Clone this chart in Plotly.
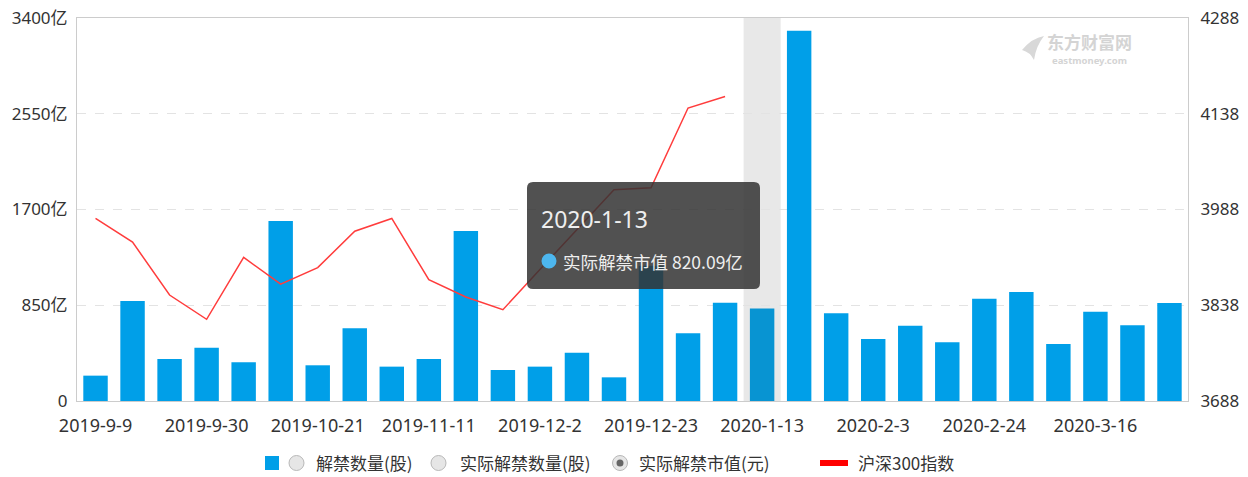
import plotly.graph_objects as go

# ---------------- data ----------------
dates = ["2019-9-9", "2019-9-16", "2019-9-23", "2019-9-30", "2019-10-7", "2019-10-14",
         "2019-10-21", "2019-10-28", "2019-11-4", "2019-11-11", "2019-11-18", "2019-11-25",
         "2019-12-2", "2019-12-9", "2019-12-16", "2019-12-23", "2019-12-30", "2020-1-6",
         "2020-1-13", "2020-1-20", "2020-1-27", "2020-2-3", "2020-2-10", "2020-2-17",
         "2020-2-24", "2020-3-2", "2020-3-9", "2020-3-16", "2020-3-23", "2020-3-30"]

# 实际解禁市值 (亿)
unlock_value = [225, 888, 373, 473, 343, 1598, 317, 645, 305, 373, 1509, 275, 305, 429, 210,
                1201, 601, 873, 820.09, 3287, 778, 550, 669, 521, 908, 968, 506, 793, 672, 870]

# 沪深300指数
hs300 = [3974, 3937, 3854, 3816, 3913, 3871, 3897, 3954, 3974, 3878, 3851, 3831, 3894,
         3956, 4019, 4022, 4147, 4165] + [None] * 12

left_ticks = [0, 850, 1700, 2550, 3400]
left_ticktext = ["0", "850亿", "1700亿", "2550亿", "3400亿"]
right_ticks = [3688, 3838, 3988, 4138, 4288]
x_tickvals = dates[::3]

hover_idx = 18
tooltip_title = "2020-1-13"
tooltip_text = "实际解禁市值 820.09亿"
legend_items = ["解禁数量(股)", "实际解禁数量(股)", "实际解禁市值(元)"]
legend_line_label = "沪深300指数"

# ---------------- layout helpers ----------------
W, H = 1248, 477
# plot area in page pixels
PL, PT, PR, PB = 77, 18, 1188, 401
PW, PH = PR - PL, PB - PT
margin = dict(l=PL, r=W - PR, t=PT, b=H - PB)


def px(x):
    return (x - PL) / PW


def py(y):
    return (PB - y) / PH


FONT = "Noto Sans, Noto Sans CJK SC, sans-serif"
CJK = "Noto Sans CJK SC, Noto Sans, sans-serif"

bar_colors = ["#009fe8"] * len(dates)
bar_colors[hover_idx] = "#0894d2"

fig = go.Figure()
fig.add_trace(go.Bar(x=dates, y=unlock_value, marker=dict(color=bar_colors, line=dict(width=0)),
                     name="实际解禁市值(元)", showlegend=False))
fig.add_trace(go.Scatter(x=dates, y=hs300, yaxis="y2", mode="lines",
                         line=dict(color="#ff3c3c", width=1.5), name=legend_line_label,
                         showlegend=False, connectgaps=False))

shapes = []
# axis pointer shadow
shapes.append(dict(type="rect", xref="x", yref="paper", x0=hover_idx - 0.5, x1=hover_idx + 0.5,
                   y0=0, y1=1, fillcolor="rgba(150,150,150,0.22)", line=dict(width=0), layer="below"))

# tooltip rounded box
x0, x1, y0, y1, r = px(527), px(760), py(289), py(182), 6
rx, ry = r / PW, r / PH
path = (f"M {x0+rx},{y0} L {x1-rx},{y0} Q {x1},{y0} {x1},{y0+ry} L {x1},{y1-ry} "
        f"Q {x1},{y1} {x1-rx},{y1} L {x0+rx},{y1} Q {x0},{y1} {x0},{y1-ry} "
        f"L {x0},{y0+ry} Q {x0},{y0} {x0+rx},{y0} Z")
shapes.append(dict(type="path", xref="paper", yref="paper", path=path,
                   fillcolor="rgba(50,50,50,0.85)", line=dict(width=0), layer="above"))
# tooltip marker circle
shapes.append(dict(type="circle", xref="paper", yref="paper", x0=px(541.5), x1=px(556.5),
                   y0=py(268.5), y1=py(253.5), fillcolor="#4db6ee", line=dict(width=0), layer="above"))

# legend: blue square
shapes.append(dict(type="rect", xref="paper", yref="paper", x0=px(265), x1=px(279),
                   y0=py(470), y1=py(456), fillcolor="#009fe8", line=dict(width=0)))
# radio buttons
for cx, selected in [(296.5, False), (438.5, False), (620, True)]:
    shapes.append(dict(type="circle", xref="paper", yref="paper", x0=px(cx - 7.5), x1=px(cx + 7.5),
                       y0=py(463 + 7.5), y1=py(463 - 7.5), fillcolor="#e6e6e6",
                       line=dict(color="#b8b8b8", width=1)))
    if selected:
        shapes.append(dict(type="circle", xref="paper", yref="paper", x0=px(cx - 3.5), x1=px(cx + 3.5),
                           y0=py(463 + 3.5), y1=py(463 - 3.5), fillcolor="#666666",
                           line=dict(width=0)))
# legend red line
shapes.append(dict(type="rect", xref="paper", yref="paper", x0=px(820), x1=px(848),
                   y0=py(466), y1=py(460), fillcolor="#ff0000", line=dict(width=0)))

annotations = []
# tooltip texts
annotations.append(dict(xref="paper", yref="paper", x=px(539), y=py(219), text=tooltip_title,
                        showarrow=False, xanchor="left", yanchor="middle",
                        font=dict(family=FONT, size=23, color="#eeeeee")))
annotations.append(dict(xref="paper", yref="paper", x=px(561), y=py(261), text=tooltip_text,
                        showarrow=False, xanchor="left", yanchor="middle",
                        font=dict(family=CJK, size=17.5, color="#eeeeee")))
# legend texts
for xpos, txt in zip([314, 458, 637], legend_items):
    annotations.append(dict(xref="paper", yref="paper", x=px(xpos), y=py(463), text=txt,
                            showarrow=False, xanchor="left", yanchor="middle",
                            font=dict(family=CJK, size=17, color="#333333")))
annotations.append(dict(xref="paper", yref="paper", x=px(856), y=py(463), text=legend_line_label,
                        showarrow=False, xanchor="left", yanchor="middle",
                        font=dict(family=CJK, size=17, color="#333333")))
# watermark
annotations.append(dict(xref="paper", yref="paper", x=px(1045), y=py(42), text="<b>东方财富网</b>",
                        showarrow=False, xanchor="left", yanchor="middle",
                        font=dict(family=CJK, size=17, color="#d4d4d4")))
annotations.append(dict(xref="paper", yref="paper", x=px(1050), y=py(60.5), text="<b>eastmoney.com</b>",
                        showarrow=False, xanchor="left", yanchor="middle",
                        font=dict(family=FONT, size=9.5, color="#d4d4d4")))
shapes.append(dict(type="path", xref="paper", yref="paper",
                   path=(f"M {px(1022)},{py(50)} Q {px(1032)},{py(38)} {px(1044)},{py(36)} "
                         f"Q {px(1036)},{py(46)} {px(1034)},{py(60)} Q {px(1030)},{py(52)} {px(1022)},{py(50)} Z"),
                   fillcolor="#d8d8d8", line=dict(width=0)))

fig.update_layout(
    width=W, height=H,
    margin=dict(**margin, autoexpand=False),
    paper_bgcolor="white", plot_bgcolor="white",
    bargap=0.34,
    showlegend=False,
    hovermode=False,
    shapes=shapes,
    annotations=annotations,
    xaxis=dict(type="category", categoryorder="array", categoryarray=dates,
               range=[-0.5, len(dates) - 0.5],
               tickmode="array", tickvals=x_tickvals, ticktext=x_tickvals,
               showgrid=False, showline=True, linecolor="#cccccc", linewidth=1, mirror=True,
               ticks="", ticklabelstandoff=8, automargin=False, ticklabeloverflow="allow",
               tickfont=dict(family=FONT, size=18, color="#333333")),
    yaxis=dict(range=[0, 3400], tickmode="array", tickvals=left_ticks, ticktext=left_ticktext,
               showgrid=True, gridcolor="#e3e3e3", griddash="dash", gridwidth=1,
               zeroline=False, showline=True, linecolor="#cccccc", linewidth=1, mirror=True,
               ticks="", ticklabelstandoff=5, automargin=False, ticklabeloverflow="allow",
               tickfont=dict(family=FONT, size=17, color="#333333")),
    yaxis2=dict(range=[3688, 4288], tickmode="array", tickvals=right_ticks,
                overlaying="y", side="right", showgrid=False, zeroline=False,
                showline=True, linecolor="#cccccc", ticks="", ticklabelstandoff=8, automargin=False,
                ticklabeloverflow="allow",
                tickfont=dict(family=FONT, size=17, color="#333333")),
)

fig.write_html("out.html", config={"displayModeBar": False},
               post_script="document.body.style.margin='0px';document.body.style.overflow='hidden';")
